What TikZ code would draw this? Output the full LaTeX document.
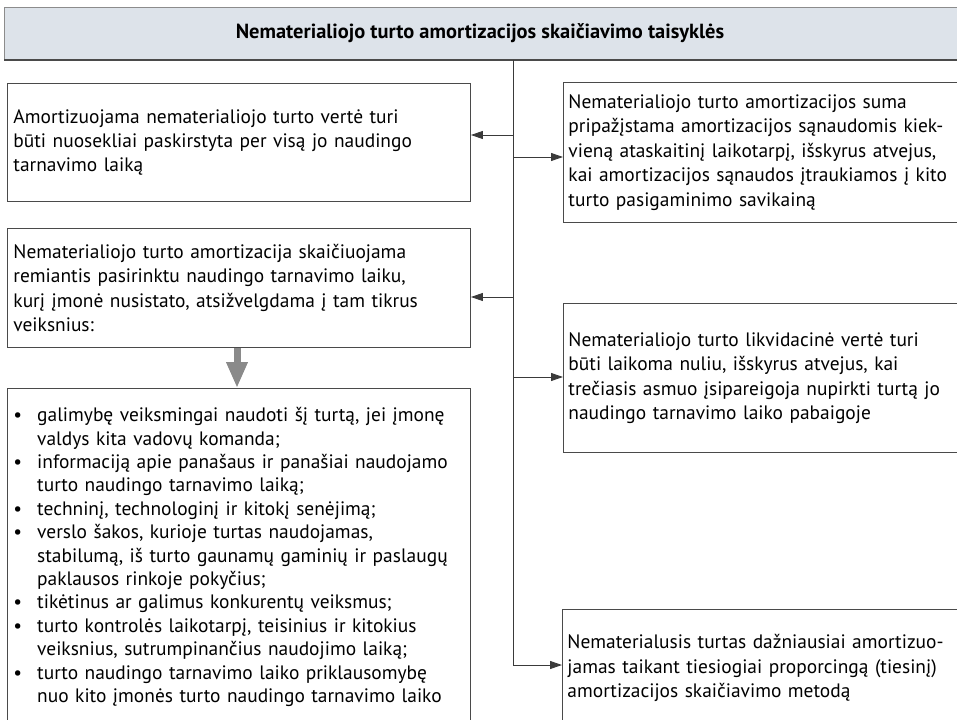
\documentclass[tikz,border=0pt]{standalone}
\usepackage{fontspec}
\setmainfont{PT Sans}
\usetikzlibrary{positioning,arrows.meta}
\definecolor{barfill}{HTML}{DDE3EA}
\definecolor{barline}{HTML}{8C8C8C}
\definecolor{boxline}{HTML}{4A4A4A}
\definecolor{trunkline}{HTML}{3A3A3A}
\definecolor{bigarrow}{HTML}{8A8A8A}

\begin{document}
\begin{tikzpicture}[x=1bp, y=1bp,
  box/.style={draw=boxline, line width=0.9bp, rectangle, anchor=north west,
    align=left, inner xsep=6bp, inner ysep=0bp,
    font=\fontsize{19.5}{24.5}\selectfont},
  arr/.style={-{Triangle[length=12bp,width=8bp]}, draw=trunkline, line width=0.9bp},
  bigarr/.style={-{Triangle[length=26bp,width=20bp]}, draw=bigarrow, line width=7bp}]
\clip (0,0) rectangle (957,-720);

% title bar across the top
\filldraw[fill=barfill, draw=barline, line width=0.9bp] (4,-7) rectangle (975,-60);
\draw[draw=boxline, line width=1.6bp] (4,-60) -- (975,-60);
\node[font=\bfseries\fontsize{20.5}{24}\selectfont] (title) at (480,-33.5)
  {Nematerialiojo turto amortizacijos skaičiavimo taisyklės};

% left column, from 7 to 470
\node[box, text width=451bp, minimum height=118bp] (amort) at (7,-83)
  {Amortizuojama nematerialiojo turto vertė turi\\
   būti nuosekliai paskirstyta per visą jo naudingo\\
   tarnavimo laiką};
\node[box, text width=451bp, minimum height=119bp] (skaic) at (7,-228)
  {Nematerialiojo turto amortizacija skaičiuojama\\
   remiantis pasirinktu naudingo tarnavimo laiku,\\
   kurį įmonė nusistato, atsižvelgdama į tam tikrus\\
   veiksnius:};
\node[box, text width=451bp, minimum height=338bp,
      font=\fontsize{19.5}{23.5}\selectfont] (veiks) at (7,-388)
  {\begin{tabular}{@{}l@{\hspace{15bp}}l@{}}
   \textbullet & galimybę veiksmingai naudoti šį turtą, jei įmonę\\
               & valdys kita vadovų komanda;\\
   \textbullet & informaciją apie panašaus ir panašiai naudojamo\\
               & turto naudingo tarnavimo laiką;\\
   \textbullet & techninį, technologinį ir kitokį senėjimą;\\
   \textbullet & verslo šakos, kurioje turtas naudojamas,\\
               & stabilumą, iš turto gaunamų gaminių ir paslaugų\\
               & paklausos rinkoje pokyčius;\\
   \textbullet & tikėtinus ar galimus konkurentų veiksmus;\\
   \textbullet & turto kontrolės laikotarpį, teisinius ir kitokius\\
               & veiksnius, sutrumpinančius naudojimo laiką;\\
   \textbullet & turto naudingo tarnavimo laiko priklausomybę\\
               & nuo kito įmonės turto naudingo tarnavimo laiko
   \end{tabular}};

% right column, from 563 on, cut at the page edge
\node[box, inner xsep=5bp, text width=390bp, minimum height=140bp] (suma) at (563,-82)
  {Nematerialiojo turto amortizacijos suma\\
   pripažįstama amortizacijos sąnaudomis kiek-\\
   vieną ataskaitinį laikotarpį, išskyrus atvejus,\\
   kai amortizacijos sąnaudos įtraukiamos į kito\\
   turto pasigaminimo savikainą};
\node[box, inner xsep=5bp, text width=390bp, minimum height=149bp] (likv) at (563,-303)
  {Nematerialiojo turto likvidacinė vertė turi\\
   būti laikoma nuliu, išskyrus atvejus, kai\\
   trečiasis asmuo įsipareigoja nupirkti turtą jo\\
   naudingo tarnavimo laiko pabaigoje};
\node[box, inner xsep=5bp, text width=390bp, minimum height=117bp] (metod) at (562,-609)
  {Nematerialusis turtas dažniausiai amortizuo-\\
   jamas taikant tiesiogiai proporcingą (tiesinį)\\
   amortizacijos skaičiavimo metodą};

% trunk and its branches
\coordinate (t0) at (513,-60);
\coordinate (t1) at (513,-135);
\coordinate (t2) at (513,-157);
\coordinate (t3) at (513,-297);
\coordinate (t4) at (513,-377);
\coordinate (t5) at (513,-665);
\draw[draw=trunkline, line width=0.9bp] (t0) -- (t5);
\draw[arr] (t1) -- (t1 -| amort.east);
\draw[arr] (t2) -- (t2 -| suma.west);
\draw[arr] (t3) -- (t3 -| skaic.east);
\draw[arr] (t4) -- (t4 -| likv.west);
\draw[arr] (t5) -- (t5 -| metod.west);

% grey arrow down to the list
\coordinate (g) at (237,0);
\draw[bigarr] (skaic.south -| g) -- (veiks.north -| g);
\end{tikzpicture}
\end{document}
